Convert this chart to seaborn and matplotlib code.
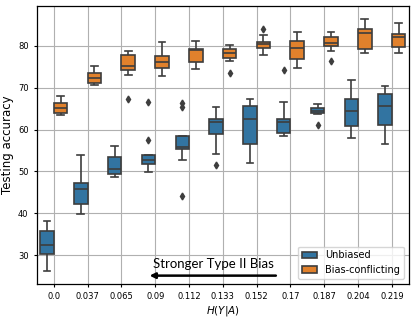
import matplotlib
matplotlib.use('Agg')
import matplotlib.pyplot as plt
import seaborn as sns
import pandas as pd

# conditional entropy levels (x categories)
entropy_labels = ['0.0', '0.037', '0.065', '0.09', '0.112', '0.133',
                  '0.152', '0.17', '0.187', '0.204', '0.219']

# per-run test accuracies, one list per entropy level
unbiased = [
    [26.1, 28.9, 30.2, 31.6, 32.5, 34.0, 35.7, 36.8, 38.1],
    [39.8, 41.5, 42.3, 44.6, 45.8, 46.5, 47.2, 49.8, 54.0],
    [48.6, 49.1, 49.4, 50.0, 50.5, 52.3, 53.5, 54.6, 56.0],
    [49.8, 51.0, 51.7, 52.3, 52.75, 53.4, 54.0, 57.6, 66.7],
    [44.2, 52.75, 55.3, 55.6, 55.95, 57.2, 58.35, 65.5, 66.3],
    [51.6, 54.2, 59.0, 61.0, 61.8, 62.2, 62.55, 64.0, 65.3],
    [52.0, 54.5, 56.5, 60.0, 62.5, 64.3, 65.7, 66.5, 67.3],
    [58.4, 58.8, 59.2, 60.5, 61.7, 62.1, 62.55, 66.7, 74.2],
    [61.05, 63.7, 63.9, 64.2, 64.5, 64.8, 65.1, 65.5, 66.15],
    [58.1, 59.8, 60.95, 62.5, 64.5, 66.0, 67.25, 69.0, 71.9],
    [56.65, 59.0, 61.05, 63.5, 65.65, 67.2, 68.45, 69.4, 70.3],
]
conflicting = [
    [63.5, 63.7, 63.9, 64.5, 65.1, 65.8, 66.3, 67.1, 68.1],
    [70.7, 70.9, 71.2, 71.8, 72.4, 73.0, 73.6, 74.3, 75.2],
    [67.3, 73.15, 74.3, 74.8, 75.3, 76.5, 77.7, 78.2, 78.65],
    [72.9, 73.9, 74.75, 75.5, 76.1, 76.9, 77.6, 79.0, 80.9],
    [74.35, 75.3, 76.25, 77.8, 78.9, 79.0, 79.2, 80.0, 81.1],
    [73.5, 76.3, 77.05, 77.7, 78.25, 78.7, 79.2, 79.6, 80.1],
    [77.85, 78.9, 79.6, 80.1, 80.4, 80.6, 80.9, 82.55, 84.0],
    [74.6, 75.8, 76.9, 78.2, 79.4, 80.3, 81.1, 82.0, 83.3],
    [76.4, 78.65, 79.9, 80.3, 80.65, 81.3, 82.0, 82.7, 83.4],
    [78.4, 78.8, 79.2, 81.5, 83.0, 83.5, 84.0, 85.0, 86.4],
    [78.25, 79.0, 79.7, 81.0, 82.1, 82.5, 82.9, 84.0, 85.4],
]

rows = []
for name, groups in [('Unbiased', unbiased), ('Bias-conflicting', conflicting)]:
    for lab, vals in zip(entropy_labels, groups):
        for v in vals:
            rows.append({'H': lab, 'acc': v, 'split': name})
df = pd.DataFrame(rows)

fig = plt.figure(figsize=(4.15, 3.2), dpi=100)
ax = fig.add_axes([0.089, 0.1125, 0.896, 0.8685])
sns.boxplot(data=df, x='H', y='acc', hue='split', order=entropy_labels,
            hue_order=['Unbiased', 'Bias-conflicting'], ax=ax,
            linewidth=1.2, linecolor='#3d3d3d', fliersize=3.5,
            flierprops=dict(marker='d', markerfacecolor='#3d3d3d',
                            markeredgecolor='#3d3d3d'))
ax.grid(True, color='#b0b0b0', linewidth=0.8)
ax.set_axisbelow(True)
ax.set_xlim(-0.5, 10.5)
ax.set_ylim(23.1, 89.5)
ax.set_yticks([30, 40, 50, 60, 70, 80])
ax.tick_params(labelsize=6, length=2.5)
ax.set_ylabel('Testing accuracy', fontsize=8.5, labelpad=3)
ax.set_xlabel(r'$H(Y|A)$', fontsize=7.5, labelpad=2)
for s in ax.spines.values():
    s.set_color('black')
    s.set_linewidth(0.9)

ax.legend(loc='lower right', fontsize=7, handlelength=1.6, title=None)

ax.annotate('', xy=(2.75, 25.1), xytext=(6.65, 25.1),
            arrowprops=dict(arrowstyle='-|>', lw=1.8, color='black',
                            mutation_scale=8))
ax.text(4.72, 26.4, 'Stronger Type II Bias', ha='center', va='bottom',
        fontsize=9.5, family='Lato')

fig.savefig('out.png', dpi=100)
